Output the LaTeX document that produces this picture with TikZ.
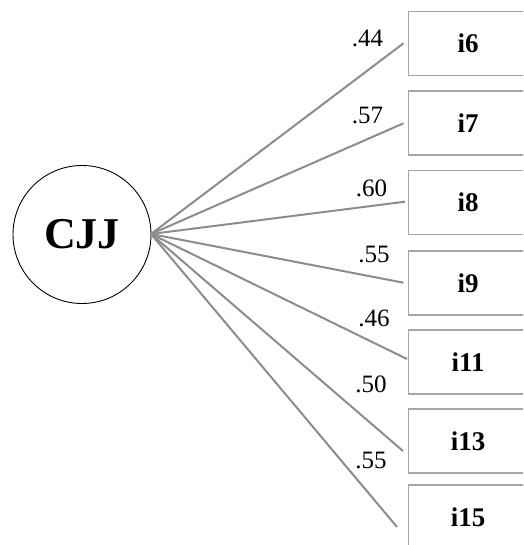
\documentclass[tikz,border=0pt]{standalone}
\usepackage{fontspec}
\setmainfont{Liberation Serif}
\begin{document}
\begin{tikzpicture}[x=1pt,y=-1pt,
  lat/.style={circle,draw=black,line width=0.9pt,minimum size=138pt,inner sep=0pt,font=\fontsize{44}{46}\selectfont\bfseries},
  obs/.style={rectangle,draw=black!35,line width=1.3pt,minimum width=120pt,minimum height=64pt,inner sep=0pt,font=\fontsize{27}{29}\selectfont\bfseries},
  path/.style={draw=black!45,line width=2pt},
  lbl/.style={font=\fontsize{25}{27}\selectfont,inner sep=0pt,anchor=base}]
\useasboundingbox (0,0) rectangle (523,545);
\clip (0,0) rectangle (523,545);
\node[lat] (cjj) at (82,234.5) {CJJ};
\coordinate (o) at (151,234);
\node[obs,anchor=west] (b6) at (407.5,43.5) {i6};
\node[obs,anchor=west] (b7) at (407.5,123) {i7};
\node[obs,anchor=west] (b8) at (407.5,202.5) {i8};
\node[obs,anchor=west] (b9) at (407.5,283) {i9};
\node[obs,anchor=west] (b11) at (407.5,362) {i11};
\node[obs,anchor=west] (b13) at (407.5,441) {i13};
\node[obs,anchor=west] (b15) at (407.5,517) {i15};
\coordinate (e6) at (403.5,43.3);
\coordinate (e7) at (403.5,123.3);
\coordinate (e8) at (405,201.7);
\coordinate (e9) at (403.5,282.7);
\coordinate (e11) at (407,359);
\coordinate (e13) at (403,451);
\coordinate (e15) at (397,527);
\foreach \e in {e6,e7,e8,e9,e11,e13,e15} \draw[path] (o) -- (\e);
\node[lbl] (l6) at (367.5,46.7) {.44};
\node[lbl] (l7) at (367.5,123.3) {.57};
\node[lbl] (l8) at (371.5,196.7) {.60};
\node[lbl] (l9) at (374,262.7) {.55};
\node[lbl] (l11) at (374,326) {.46};
\node[lbl] (l13) at (371,392.7) {.50};
\node[lbl] (l15) at (371,468.3) {.55};
\end{tikzpicture}
\end{document}
